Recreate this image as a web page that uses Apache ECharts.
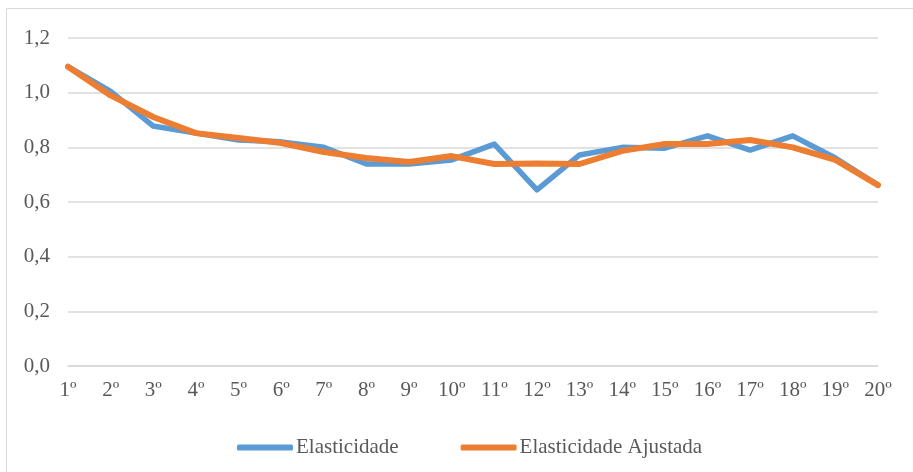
<!DOCTYPE html>
<html>
<head>
<meta charset="utf-8">
<script src="https://cdn.jsdelivr.net/npm/echarts@6/dist/echarts.min.js"></script>
<style>
  html, body { margin: 0; padding: 0; background: #fff; }
  #chart { width: 913px; height: 472px; }
</style>
</head>
<body>
<div id="chart"></div>
<script>
  const categories = ['1º','2º','3º','4º','5º','6º','7º','8º','9º','10º','11º','12º','13º','14º','15º','16º','17º','18º','19º','20º'];
  const elasticidade = [1.095, 1.005, 0.878, 0.852, 0.827, 0.820, 0.800, 0.739, 0.739, 0.754, 0.812, 0.644, 0.772, 0.800, 0.797, 0.842, 0.790, 0.842, 0.761, 0.662];
  const elasticidadeAjustada = [1.095, 0.990, 0.911, 0.852, 0.834, 0.816, 0.783, 0.761, 0.746, 0.768, 0.739, 0.741, 0.739, 0.787, 0.812, 0.812, 0.827, 0.800, 0.754, 0.662];
  const yTicks = [0, 0.2, 0.4, 0.6, 0.8, 1.0, 1.2];

  const font = 'Liberation Serif';
  const textColor = '#595959';
  const gridColor = '#d9d9d9';

  const chart = echarts.init(document.getElementById('chart'));
  chart.setOption({
    backgroundColor: '#fff',
    animation: false,
    graphic: [{
      type: 'rect',
      shape: { x: 6.5, y: 8.5, width: 1200, height: 1200 },
      style: { fill: 'none', stroke: gridColor, lineWidth: 1 },
      silent: true
    }],
    grid: { left: 68, right: 35, top: 38, bottom: 106 },
    legend: {
      bottom: 9,
      left: 232,
      itemGap: 62,
      itemWidth: 56,
      itemHeight: 6,
      icon: 'roundRect',
      textStyle: { fontFamily: font, fontSize: 21, color: textColor, padding: [0, 0, 0, -2] },
      data: ['Elasticidade', 'Elasticidade Ajustada']
    },
    xAxis: {
      type: 'category',
      data: categories,
      boundaryGap: false,
      axisLine: { lineStyle: { color: gridColor, width: 1.5 } },
      axisTick: { show: false },
      axisLabel: { fontFamily: font, fontSize: 21, color: textColor, margin: 14, interval: 0 }
    },
    yAxis: {
      type: 'value',
      min: yTicks[0],
      max: yTicks[yTicks.length - 1],
      interval: 0.2,
      axisLine: { show: false },
      axisTick: { show: false },
      splitLine: { lineStyle: { color: gridColor, width: 1.5 } },
      axisLabel: {
        fontFamily: font, fontSize: 21, color: textColor, margin: 18,
        formatter: v => v.toFixed(1).replace('.', ',')
      }
    },
    series: [
      {
        name: 'Elasticidade',
        type: 'line',
        data: elasticidade,
        symbol: 'none',
        color: '#5B9BD5',
        lineStyle: { width: 5.5, cap: 'round', join: 'round' }
      },
      {
        name: 'Elasticidade Ajustada',
        type: 'line',
        data: elasticidadeAjustada,
        symbol: 'none',
        color: '#ED7D31',
        lineStyle: { width: 6, cap: 'round', join: 'round' }
      }
    ]
  });
</script>
</body>
</html>
